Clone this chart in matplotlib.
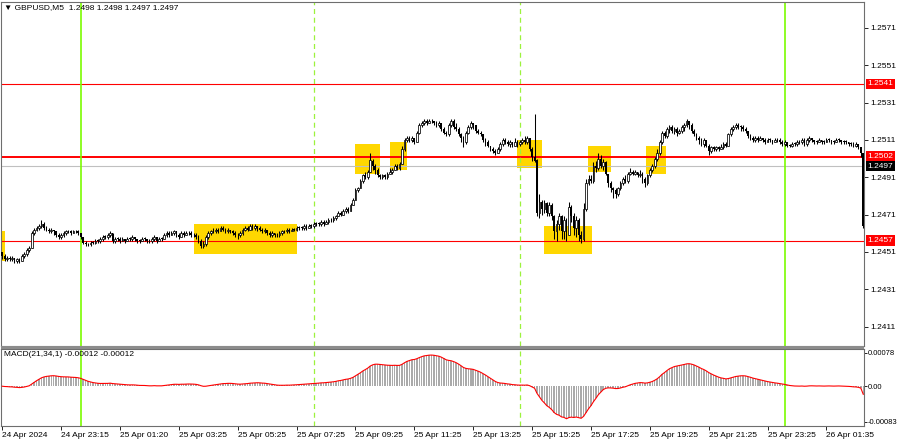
import numpy as np
import pandas as pd
import matplotlib
matplotlib.use('Agg')
import matplotlib.pyplot as plt
from matplotlib.patches import Rectangle

# GBPUSD M5 bars (open = previous close)
first_open = 1.2451
close_px = [
    1.2449, 1.2447, 1.2448, 1.2447, 1.2448, 1.2446, 1.2447, 1.2446, 1.2449, 1.2450, 1.2452, 1.2453,
    1.2461, 1.2463, 1.2464, 1.2465, 1.2466, 1.2464, 1.2463, 1.2462, 1.2463, 1.2462, 1.2460, 1.2459,
    1.2460, 1.2461, 1.2462, 1.2462, 1.2461, 1.2462, 1.2462, 1.2461, 1.2459, 1.2456, 1.2455, 1.2455,
    1.2456, 1.2456, 1.2457, 1.2457, 1.2458, 1.2459, 1.2459, 1.2460, 1.2461, 1.2457, 1.2458, 1.2458,
    1.2457, 1.2458, 1.2457, 1.2458, 1.2458, 1.2459, 1.2458, 1.2457, 1.2457, 1.2458, 1.2458, 1.2457,
    1.2457, 1.2458, 1.2459, 1.2457, 1.2458, 1.2458, 1.2460, 1.2461, 1.2460, 1.2461, 1.2462, 1.2460,
    1.2459, 1.2461, 1.2460, 1.2461, 1.2461, 1.2460, 1.2460, 1.2459, 1.2457, 1.2454, 1.2455, 1.2459,
    1.2461, 1.2462, 1.2462, 1.2463, 1.2462, 1.2464, 1.2463, 1.2462, 1.2463, 1.2462, 1.2461, 1.2460,
    1.2460, 1.2461, 1.2463, 1.2464, 1.2463, 1.2465, 1.2464, 1.2465, 1.2464, 1.2463, 1.2462, 1.2463,
    1.2461, 1.2460, 1.2461, 1.2460, 1.2460, 1.2461, 1.2462, 1.2462, 1.2463, 1.2462, 1.2463, 1.2463,
    1.2464, 1.2464, 1.2464, 1.2465, 1.2464, 1.2465, 1.2465, 1.2466, 1.2466, 1.2466, 1.2467, 1.2466,
    1.2467, 1.2468, 1.2468, 1.2469, 1.2470, 1.2472, 1.2471, 1.2473, 1.2474, 1.2473, 1.2476, 1.2479,
    1.2484, 1.2485, 1.2489, 1.2492, 1.2491, 1.2494, 1.2500, 1.2497, 1.2495, 1.2492, 1.2491, 1.2492,
    1.2491, 1.2493, 1.2494, 1.2495, 1.2497, 1.2496, 1.2498, 1.2506, 1.2511, 1.2512, 1.2511, 1.2512,
    1.2510, 1.2515, 1.2519, 1.2520, 1.2521, 1.2520, 1.2521, 1.2521, 1.2520, 1.2519, 1.2520, 1.2517,
    1.2515, 1.2514, 1.2519, 1.2521, 1.2518, 1.2517, 1.2514, 1.2512, 1.2510, 1.2515, 1.2518, 1.2520,
    1.2519, 1.2516, 1.2515, 1.2514, 1.2511, 1.2510, 1.2508, 1.2506, 1.2505, 1.2504, 1.2506, 1.2509,
    1.2511, 1.2510, 1.2509, 1.2510, 1.2508, 1.2510, 1.2509, 1.2510, 1.2511, 1.2510, 1.2512, 1.2506,
    1.2502, 1.2500, 1.2472, 1.2478, 1.2474, 1.2477, 1.2472, 1.2476, 1.2470, 1.2462, 1.2466, 1.2470,
    1.2462, 1.2468, 1.2460, 1.2475, 1.2470, 1.2464, 1.2468, 1.2460, 1.2458, 1.2474, 1.2488, 1.2490,
    1.2489, 1.2497, 1.2496, 1.2501, 1.2497, 1.2499, 1.2493, 1.2488, 1.2485, 1.2484, 1.2482, 1.2485,
    1.2488, 1.2490, 1.2489, 1.2493, 1.2494, 1.2493, 1.2494, 1.2492, 1.2493, 1.2490, 1.2488, 1.2492,
    1.2495, 1.2497, 1.2501, 1.2504, 1.2510, 1.2515, 1.2513, 1.2517, 1.2518, 1.2516, 1.2517, 1.2515,
    1.2516, 1.2518, 1.2519, 1.2521, 1.2519, 1.2516, 1.2514, 1.2512, 1.2511, 1.2509, 1.2511, 1.2508,
    1.2505, 1.2507, 1.2506, 1.2507, 1.2506, 1.2507, 1.2509, 1.2508, 1.2514, 1.2517, 1.2518, 1.2519,
    1.2518, 1.2518, 1.2517, 1.2516, 1.2513, 1.2512, 1.2511, 1.2512, 1.2511, 1.2512, 1.2511, 1.2510,
    1.2511, 1.2511, 1.2510, 1.2511, 1.2511, 1.2510, 1.2509, 1.2510, 1.2508, 1.2508, 1.2509, 1.2509,
    1.2510, 1.2510, 1.2511, 1.2509, 1.2511, 1.2512, 1.2511, 1.2510, 1.2510, 1.2511, 1.2510, 1.2510,
    1.2511, 1.2511, 1.2510, 1.2510, 1.2511, 1.2511, 1.2510, 1.2510, 1.2510, 1.2509, 1.2509, 1.2508,
    1.2509, 1.2507, 1.2504, 1.2465,
]
high_px = [
    1.2451, 1.2450, 1.2449, 1.2449, 1.2449, 1.2448, 1.2448, 1.2448, 1.2450, 1.2451, 1.2453, 1.2454,
    1.2462, 1.2464, 1.2465, 1.2466, 1.2468, 1.2467, 1.2465, 1.2464, 1.2464, 1.2463, 1.2462, 1.2461,
    1.2461, 1.2462, 1.2463, 1.2463, 1.2463, 1.2463, 1.2463, 1.2463, 1.2461, 1.2459, 1.2457, 1.2456,
    1.2457, 1.2457, 1.2458, 1.2458, 1.2459, 1.2460, 1.2460, 1.2461, 1.2462, 1.2461, 1.2459, 1.2459,
    1.2459, 1.2459, 1.2458, 1.2459, 1.2459, 1.2460, 1.2459, 1.2458, 1.2458, 1.2459, 1.2459, 1.2458,
    1.2458, 1.2459, 1.2460, 1.2459, 1.2459, 1.2459, 1.2461, 1.2462, 1.2462, 1.2462, 1.2463, 1.2462,
    1.2461, 1.2462, 1.2462, 1.2462, 1.2462, 1.2462, 1.2461, 1.2461, 1.2460, 1.2458, 1.2457, 1.2460,
    1.2462, 1.2463, 1.2464, 1.2464, 1.2464, 1.2465, 1.2465, 1.2464, 1.2464, 1.2463, 1.2463, 1.2462,
    1.2461, 1.2462, 1.2464, 1.2465, 1.2465, 1.2466, 1.2466, 1.2466, 1.2465, 1.2465, 1.2464, 1.2464,
    1.2463, 1.2462, 1.2462, 1.2461, 1.2461, 1.2462, 1.2463, 1.2463, 1.2464, 1.2464, 1.2464, 1.2464,
    1.2465, 1.2465, 1.2465, 1.2466, 1.2466, 1.2466, 1.2466, 1.2467, 1.2467, 1.2467, 1.2468, 1.2468,
    1.2468, 1.2469, 1.2469, 1.2470, 1.2471, 1.2473, 1.2473, 1.2474, 1.2475, 1.2475, 1.2477, 1.2480,
    1.2485, 1.2486, 1.2490, 1.2493, 1.2494, 1.2495, 1.2504, 1.2501, 1.2498, 1.2496, 1.2493, 1.2493,
    1.2493, 1.2494, 1.2496, 1.2496, 1.2498, 1.2498, 1.2499, 1.2508, 1.2512, 1.2513, 1.2513, 1.2513,
    1.2512, 1.2516, 1.2520, 1.2521, 1.2522, 1.2522, 1.2522, 1.2522, 1.2521, 1.2521, 1.2521, 1.2520,
    1.2518, 1.2516, 1.2520, 1.2522, 1.2522, 1.2520, 1.2518, 1.2515, 1.2513, 1.2516, 1.2519, 1.2521,
    1.2520, 1.2519, 1.2517, 1.2516, 1.2514, 1.2512, 1.2511, 1.2508, 1.2507, 1.2506, 1.2507, 1.2510,
    1.2512, 1.2512, 1.2511, 1.2511, 1.2510, 1.2512, 1.2511, 1.2511, 1.2512, 1.2513, 1.2513, 1.2512,
    1.2507, 1.2525, 1.2501, 1.2482, 1.2479, 1.2479, 1.2478, 1.2478, 1.2477, 1.2471, 1.2468, 1.2472,
    1.2471, 1.2470, 1.2469, 1.2478, 1.2476, 1.2472, 1.2470, 1.2469, 1.2462, 1.2477, 1.2490, 1.2492,
    1.2492, 1.2499, 1.2500, 1.2504, 1.2503, 1.2501, 1.2500, 1.2493, 1.2489, 1.2486, 1.2485, 1.2486,
    1.2489, 1.2491, 1.2492, 1.2494, 1.2496, 1.2495, 1.2495, 1.2494, 1.2495, 1.2494, 1.2491, 1.2493,
    1.2496, 1.2498, 1.2502, 1.2506, 1.2511, 1.2516, 1.2516, 1.2518, 1.2519, 1.2519, 1.2518, 1.2518,
    1.2517, 1.2519, 1.2520, 1.2522, 1.2521, 1.2520, 1.2517, 1.2515, 1.2513, 1.2512, 1.2512, 1.2511,
    1.2509, 1.2508, 1.2508, 1.2508, 1.2508, 1.2509, 1.2510, 1.2510, 1.2515, 1.2518, 1.2519, 1.2520,
    1.2520, 1.2519, 1.2519, 1.2518, 1.2516, 1.2514, 1.2513, 1.2513, 1.2513, 1.2513, 1.2512, 1.2512,
    1.2512, 1.2512, 1.2511, 1.2512, 1.2512, 1.2512, 1.2511, 1.2511, 1.2510, 1.2509, 1.2510, 1.2510,
    1.2511, 1.2511, 1.2512, 1.2512, 1.2512, 1.2513, 1.2512, 1.2511, 1.2511, 1.2512, 1.2511, 1.2511,
    1.2512, 1.2512, 1.2511, 1.2511, 1.2512, 1.2512, 1.2511, 1.2511, 1.2511, 1.2510, 1.2510, 1.2510,
    1.2510, 1.2509, 1.2507, 1.2504,
]
low_px = [
    1.2447, 1.2446, 1.2446, 1.2446, 1.2446, 1.2445, 1.2445, 1.2445, 1.2446, 1.2448, 1.2449, 1.2451,
    1.2453, 1.2460, 1.2462, 1.2463, 1.2464, 1.2463, 1.2462, 1.2461, 1.2461, 1.2460, 1.2459, 1.2458,
    1.2458, 1.2459, 1.2460, 1.2461, 1.2460, 1.2461, 1.2461, 1.2460, 1.2458, 1.2455, 1.2454, 1.2454,
    1.2454, 1.2455, 1.2455, 1.2456, 1.2456, 1.2457, 1.2458, 1.2458, 1.2459, 1.2456, 1.2456, 1.2457,
    1.2456, 1.2457, 1.2456, 1.2457, 1.2457, 1.2457, 1.2457, 1.2456, 1.2456, 1.2457, 1.2457, 1.2456,
    1.2456, 1.2456, 1.2457, 1.2456, 1.2457, 1.2457, 1.2458, 1.2459, 1.2459, 1.2460, 1.2460, 1.2459,
    1.2458, 1.2459, 1.2459, 1.2460, 1.2460, 1.2459, 1.2459, 1.2458, 1.2456, 1.2453, 1.2453, 1.2454,
    1.2458, 1.2460, 1.2461, 1.2461, 1.2461, 1.2462, 1.2462, 1.2461, 1.2461, 1.2461, 1.2460, 1.2459,
    1.2458, 1.2459, 1.2460, 1.2462, 1.2462, 1.2463, 1.2463, 1.2463, 1.2462, 1.2462, 1.2461, 1.2461,
    1.2460, 1.2459, 1.2459, 1.2459, 1.2459, 1.2459, 1.2460, 1.2461, 1.2461, 1.2461, 1.2462, 1.2462,
    1.2462, 1.2463, 1.2463, 1.2463, 1.2463, 1.2464, 1.2464, 1.2464, 1.2465, 1.2465, 1.2465, 1.2465,
    1.2466, 1.2466, 1.2467, 1.2467, 1.2468, 1.2470, 1.2470, 1.2471, 1.2472, 1.2472, 1.2473, 1.2476,
    1.2479, 1.2483, 1.2485, 1.2488, 1.2490, 1.2490, 1.2494, 1.2495, 1.2493, 1.2491, 1.2490, 1.2490,
    1.2490, 1.2490, 1.2493, 1.2493, 1.2495, 1.2495, 1.2495, 1.2498, 1.2505, 1.2510, 1.2510, 1.2510,
    1.2509, 1.2510, 1.2514, 1.2518, 1.2519, 1.2519, 1.2520, 1.2520, 1.2519, 1.2518, 1.2518, 1.2516,
    1.2514, 1.2513, 1.2513, 1.2518, 1.2517, 1.2516, 1.2513, 1.2510, 1.2507, 1.2509, 1.2514, 1.2517,
    1.2517, 1.2515, 1.2514, 1.2513, 1.2510, 1.2508, 1.2507, 1.2505, 1.2504, 1.2503, 1.2504, 1.2505,
    1.2508, 1.2509, 1.2508, 1.2507, 1.2507, 1.2508, 1.2507, 1.2508, 1.2509, 1.2509, 1.2509, 1.2505,
    1.2500, 1.2499, 1.2470, 1.2469, 1.2471, 1.2472, 1.2470, 1.2470, 1.2468, 1.2458, 1.2457, 1.2463,
    1.2458, 1.2458, 1.2457, 1.2460, 1.2467, 1.2460, 1.2459, 1.2457, 1.2456, 1.2457, 1.2473, 1.2487,
    1.2488, 1.2488, 1.2494, 1.2495, 1.2496, 1.2495, 1.2492, 1.2486, 1.2483, 1.2480, 1.2480, 1.2481,
    1.2484, 1.2487, 1.2488, 1.2488, 1.2492, 1.2492, 1.2492, 1.2491, 1.2491, 1.2488, 1.2486, 1.2487,
    1.2491, 1.2494, 1.2496, 1.2500, 1.2503, 1.2509, 1.2512, 1.2512, 1.2515, 1.2515, 1.2514, 1.2513,
    1.2514, 1.2515, 1.2516, 1.2518, 1.2517, 1.2515, 1.2513, 1.2511, 1.2509, 1.2508, 1.2507, 1.2507,
    1.2503, 1.2504, 1.2505, 1.2505, 1.2505, 1.2506, 1.2506, 1.2507, 1.2508, 1.2513, 1.2516, 1.2517,
    1.2517, 1.2516, 1.2516, 1.2515, 1.2512, 1.2511, 1.2510, 1.2510, 1.2510, 1.2511, 1.2510, 1.2509,
    1.2510, 1.2510, 1.2509, 1.2510, 1.2510, 1.2509, 1.2508, 1.2508, 1.2507, 1.2507, 1.2507, 1.2508,
    1.2508, 1.2509, 1.2509, 1.2508, 1.2508, 1.2510, 1.2510, 1.2509, 1.2509, 1.2510, 1.2509, 1.2509,
    1.2510, 1.2510, 1.2509, 1.2509, 1.2510, 1.2510, 1.2509, 1.2509, 1.2509, 1.2508, 1.2508, 1.2507,
    1.2507, 1.2506, 1.2502, 1.2464,
]

time_tick_bars = [0, 24, 48, 72, 96, 120, 144, 168, 192, 216, 240, 264, 288, 312, 336]
time_labels = ['24 Apr 2024', '24 Apr 23:15', '25 Apr 01:20', '25 Apr 03:25', '25 Apr 05:25',
               '25 Apr 07:25', '25 Apr 09:25', '25 Apr 11:25', '25 Apr 13:25', '25 Apr 15:25',
               '25 Apr 17:25', '25 Apr 19:25', '25 Apr 21:25', '25 Apr 23:25', '26 Apr 01:35']
price_ticks = [1.2411, 1.2431, 1.2451, 1.2471, 1.2491, 1.2511, 1.2531, 1.2551, 1.2571]
macd_ticks = [-0.00083, 0.0, 0.00078]
macd_tick_labels = ['-0.00083', '0.00', '0.00078']

red_levels = [1.2541, 1.2502, 1.2457]
bid_price = 1.2497
day_lines = [32, 319]        # bar index of solid green separators
session_lines = [127, 211]   # bar index of dashed green lines
# yellow zones: (first bar, last bar, low price, high price)
zones = [(-0.5, 1.2, 1.2446, 1.2462), (78, 120, 1.2450, 1.2466),
         (144, 154, 1.2493, 1.2509), (158, 165, 1.2495, 1.2510),
         (210, 220, 1.2496, 1.2511), (221, 240.5, 1.2450, 1.2465),
         (238.6, 248, 1.2494, 1.2508), (262.6, 270.7, 1.2493, 1.2508)]

assert len(close_px) == len(high_px) == len(low_px)

plt.rcParams['font.family'] = ['Liberation Sans', 'DejaVu Sans']
FS = 6.0
W, H = 900, 441


def box(x0, y0, x1, y1):
    return [x0 / W, 1 - y1 / H, (x1 - x0) / W, (y1 - y0) / H]


fig = plt.figure(figsize=(9, 4.41), dpi=100)
ax = fig.add_axes(box(1, 1.5, 864, 346))
ax2 = fig.add_axes(box(1, 349, 864, 426), sharex=ax)

close = np.array(close_px)
high = np.array(high_px)
low = np.array(low_px)
opn = np.concatenate([[first_open], close[:-1]])
idx = np.arange(len(close))
up = close > opn

# zones and levels
for b0, b1, p0, p1 in zones:
    ax.add_patch(Rectangle((b0, p0), b1 - b0, p1 - p0, facecolor='#FFD700', edgecolor='none', zorder=1))
ax.axhline(bid_price, color='#C0C0C0', lw=0.8, zorder=2)
for lv in red_levels:
    ax.axhline(lv, color='red', lw=1.4 if lv == 1.2502 else 0.8, zorder=2)

for a in (ax, ax2):
    for b in day_lines:
        a.axvline(b, color='#7CFC00', lw=1.2, zorder=2.5)
    for b in session_lines:
        a.axvline(b, color='#9CF23C', lw=0.9, ls=(0, (4, 3)), zorder=2.5)

# candles
ax.vlines(idx, low, high, color='black', lw=0.75, zorder=3)
body_lo = np.minimum(opn, close)
body_h = np.maximum(np.abs(close - opn), 0.00003)
ax.bar(idx[up], body_h[up], bottom=body_lo[up], width=0.7, facecolor='white',
       edgecolor='black', lw=0.55, zorder=4)
ax.bar(idx[~up], body_h[~up], bottom=body_lo[~up], width=0.7, color='black', zorder=4)

ax.set_xlim(-0.5, 351.3)
ax.set_ylim(1.24006, 1.25852)
ax.yaxis.tick_right()
ax.set_yticks(price_ticks)
ax.set_yticklabels([f'{p:.4f}' for p in price_ticks])
ax.tick_params(axis='y', length=3, width=0.6, labelsize=FS, pad=1.5)
ax.tick_params(axis='x', bottom=False, labelbottom=False)

lab_tr = ax.get_yaxis_transform()
for lv in red_levels:
    ax.text(1.004, lv, f'{lv:.4f}', transform=lab_tr, fontsize=FS, color='white', va='center',
            ha='left', clip_on=False, zorder=6,
            bbox=dict(facecolor='red', edgecolor='none', pad=1.3))
ax.text(1.004, bid_price, f'{bid_price:.4f}', transform=lab_tr, fontsize=FS, color='white',
        va='center', ha='left', clip_on=False, zorder=6,
        bbox=dict(facecolor='black', edgecolor='none', pad=1.3))

# MACD(21,34,1)
s = pd.Series(close)
macd = s.ewm(span=21, adjust=False).mean() - s.ewm(span=34, adjust=False).mean()
signal = macd.rolling(1).mean()
ax2.bar(idx, macd, width=0.6, color='#AAAAAA', zorder=2)
ax2.plot(idx, signal, color='red', lw=0.8, zorder=3)
ax2.set_ylim(-0.00093, 0.00087)
ax2.yaxis.tick_right()
ax2.set_yticks(macd_ticks)
ax2.set_yticklabels(macd_tick_labels)
ax2.tick_params(axis='y', length=2, width=0.6, labelsize=5.5, pad=0.8)
ax2.set_xticks(time_tick_bars)
ax2.set_xticklabels(time_labels, ha='left')
ax2.tick_params(axis='x', length=3, width=0.6, labelsize=FS, pad=1.5)

for a in (ax, ax2):
    for sp in a.spines.values():
        sp.set_color('#6E6E6E')
        sp.set_linewidth(0.8)

fig.add_artist(Rectangle((1 / W, 1 - 349 / H), 863 / W, 3 / H, transform=fig.transFigure,
                         facecolor='#8C8C8C', edgecolor='none'))
fig.text(4 / W, 1 - 7.5 / H, '\u25bc GBPUSD,M5  1.2498 1.2498 1.2497 1.2497', fontsize=FS, va='center')
fig.text(4 / W, 1 - 355 / H, 'MACD(21,34,1) -0.00012 -0.00012', fontsize=FS, va='center')

fig.savefig('out.png', dpi=100)
